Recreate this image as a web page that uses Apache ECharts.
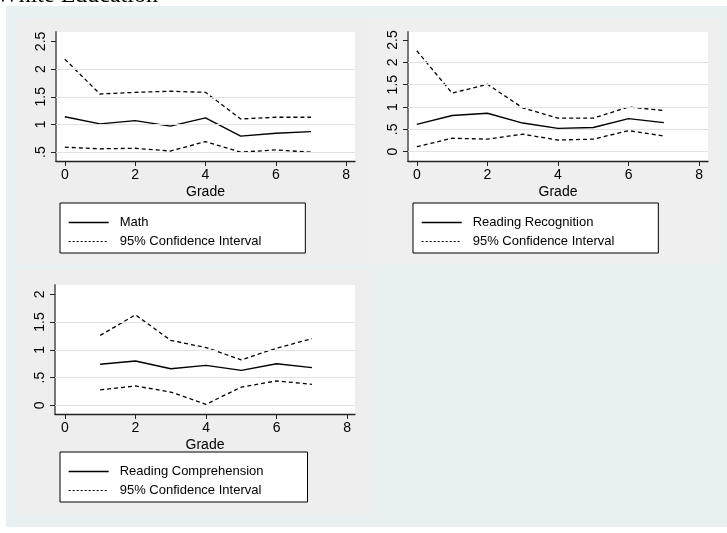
<!DOCTYPE html>
<html>
<head>
<meta charset="utf-8">
<script src="https://cdn.jsdelivr.net/npm/echarts@6/dist/echarts.min.js"></script>
<style>
  html, body { margin: 0; padding: 0; background: #ffffff; }
  #chart { width: 727px; height: 533px; }
</style>
</head>
<body>
<div id="chart"></div>
<script>
// Grades on the horizontal axis
const grades = [0, 1, 2, 3, 4, 5, 6, 7];
const gradesComp = [1, 2, 3, 4, 5, 6, 7];
const xTicks = [0, 2, 4, 6, 8];

// Math: estimate with 95% confidence band
const mathEst   = [1.14, 1.01, 1.07, 0.97, 1.12, 0.79, 0.84, 0.87];
const mathUpper = [2.18, 1.55, 1.58, 1.60, 1.58, 1.10, 1.13, 1.13];
const mathLower = [0.59, 0.56, 0.57, 0.52, 0.69, 0.50, 0.54, 0.50];
const mathTicks = [0.5, 1, 1.5, 2, 2.5];

// Reading recognition
const recEst   = [0.61, 0.81, 0.86, 0.64, 0.52, 0.54, 0.74, 0.65];
const recUpper = [2.26, 1.31, 1.51, 0.98, 0.75, 0.75, 1.00, 0.92];
const recLower = [0.11, 0.30, 0.28, 0.39, 0.26, 0.28, 0.47, 0.35];
const recTicks = [0, 0.5, 1, 1.5, 2, 2.5];

// Reading comprehension (no grade 0)
const compEst   = [0.74, 0.80, 0.66, 0.72, 0.63, 0.75, 0.68];
const compUpper = [1.26, 1.63, 1.17, 1.04, 0.82, 1.03, 1.20];
const compLower = [0.28, 0.35, 0.24, 0.02, 0.33, 0.44, 0.38];
const compTicks = [0, 0.5, 1, 1.5, 2];

const ciName = '95% Confidence Interval';
const FONT = '"Liberation Sans", Arial, sans-serif';

const panels = [
  { name: 'Math', x: grades, est: mathEst, up: mathUpper, lo: mathLower, ticks: mathTicks,
    grid: { left: 56, top: 32, width: 299, height: 129 }, xr: [-0.25, 8.25], yr: [0.34, 2.67],
    legend: { left: 60, top: 203 } },
  { name: 'Reading Recognition', x: grades, est: recEst, up: recUpper, lo: recLower, ticks: recTicks,
    grid: { left: 408, top: 32, width: 300, height: 129 }, xr: [-0.25, 8.25], yr: [-0.21, 2.68],
    legend: { left: 413, top: 203 } },
  { name: 'Reading Comprehension', x: gradesComp, est: compEst, up: compUpper, lo: compLower, ticks: compTicks,
    grid: { left: 55, top: 285, width: 300, height: 129 }, xr: [-0.28, 8.22], yr: [-0.155, 2.167],
    legend: { left: 60, top: 452 } }
];

const fmtTick = v => {
  let s = String(+v.toFixed(2));
  if (s.startsWith('0.')) s = s.slice(1);
  return s;
};

const grid = [], xAxis = [], yAxis = [], series = [], legend = [];

panels.forEach((p, i) => {
  grid.push(Object.assign({ backgroundColor: '#ffffff', show: true, borderWidth: 0 }, p.grid));
  xAxis.push({
    type: 'value', gridIndex: i, min: p.xr[0], max: p.xr[1],
    name: 'Grade', nameLocation: 'middle', nameGap: 24,
    nameTextStyle: { fontFamily: FONT, fontSize: 14, color: '#000' },
    axisLine: { show: true, onZero: false, lineStyle: { color: '#222', width: 1.3 } },
    axisTick: { show: true, length: 5, customValues: xTicks, lineStyle: { color: '#222' } },
    axisLabel: { customValues: xTicks, fontFamily: FONT, fontSize: 14, color: '#000', margin: 7 },
    splitLine: { show: false }
  });
  yAxis.push({
    type: 'value', gridIndex: i, min: p.yr[0], max: p.yr[1],
    axisLine: { show: true, onZero: false, lineStyle: { color: '#777', width: 2 } },
    axisTick: { show: true, length: 5, customValues: p.ticks, lineStyle: { color: '#222' } },
    axisLabel: { customValues: p.ticks, rotate: 90, fontFamily: FONT, fontSize: 14, color: '#000',
                 margin: 8, formatter: fmtTick },
    splitLine: { show: false }
  });
  const gridVals = p.ticks.slice(0, -1);
  // light horizontal reference lines at the tick values (except the top one)
  series.push({
    type: 'line', xAxisIndex: i, yAxisIndex: i, data: [], silent: true,
    markLine: {
      silent: true, symbol: 'none', label: { show: false },
      lineStyle: { color: '#e2e2e2', type: 'solid', width: 1.2 },
      data: gridVals.map(v => ({ yAxis: v }))
    }
  });
  const mk = (name, ys, dashed) => ({
    type: 'line', name: name, xAxisIndex: i, yAxisIndex: i,
    data: p.x.map((g, k) => [g, ys[k]]),
    symbol: 'none', z: 3,
    lineStyle: { color: '#000', width: dashed ? 1.3 : 1.4, type: dashed ? [4, 3] : 'solid' },
    itemStyle: { color: '#000' }
  });
  series.push(mk(p.name, p.est, false));
  series.push(mk(ciName, p.up, true));
  series.push(mk(ciName, p.lo, true));
  legend.push({
    data: [
      { name: p.name, lineStyle: { type: 'solid', width: 1.4, color: '#000' } },
      { name: ciName, lineStyle: { type: [2, 2], width: 1, color: '#000' } }
    ],
    orient: 'vertical',
    left: p.legend.left, top: p.legend.top,
    backgroundColor: '#ffffff', borderColor: '#000', borderWidth: 1,
    padding: [13, 44, 5, 8], itemGap: 6, itemWidth: 40, itemHeight: 12,
    selectedMode: false,
    itemStyle: { color: 'rgba(0,0,0,0)', borderWidth: 0, opacity: 0 },
    textStyle: { fontFamily: FONT, fontSize: 13, color: '#000', padding: [0, 0, 0, 6] }
  });
});

const chart = echarts.init(document.getElementById('chart'), null, { renderer: 'canvas' });
chart.setOption({
  animation: false,
  backgroundColor: '#ffffff',
  graphic: [
    { type: 'rect', z: -10, shape: { x: 6, y: 6, width: 721, height: 521 }, style: { fill: '#e8f0f2' } },
    { type: 'rect', z: -9, shape: { x: 17, y: 18, width: 353, height: 246 }, style: { fill: '#eeeeee' } },
    { type: 'rect', z: -9, shape: { x: 370, y: 18, width: 352, height: 246 }, style: { fill: '#efefef' } },
    { type: 'rect', z: -9, shape: { x: 17, y: 270, width: 353, height: 246 }, style: { fill: '#eeeeee' } },
    { type: 'text', z: 10, left: -4, top: -16,
      style: { text: 'White Education', font: '24px "Liberation Serif", "DejaVu Serif", serif', fill: '#000' } }
  ],
  grid, xAxis, yAxis, series, legend
});
</script>
</body>
</html>
